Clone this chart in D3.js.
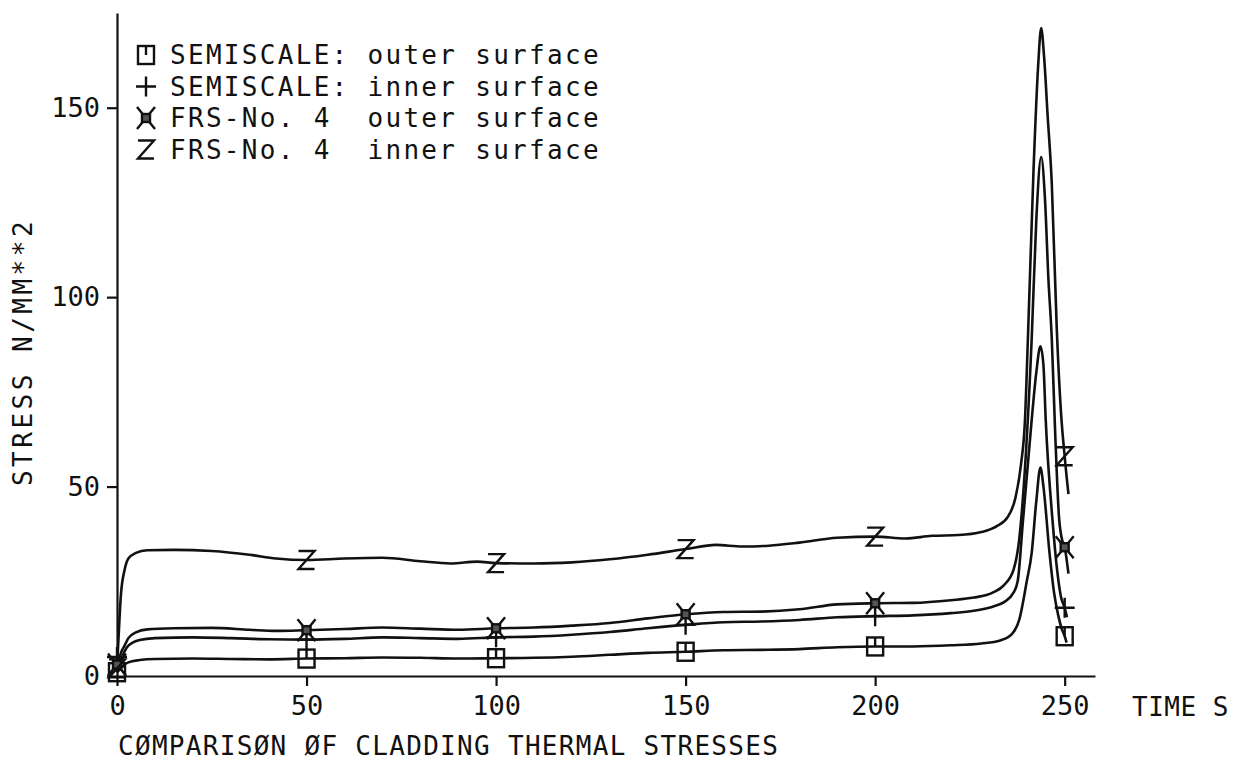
<!DOCTYPE html>
<html>
<head>
<meta charset="utf-8">
<script src="https://cdn.jsdelivr.net/npm/d3@7"></script>
<style>
  body { margin: 0; background: #fff; }
  svg text { font-family: "DejaVu Sans Mono", monospace; fill: #111; }
</style>
</head>
<body>
<svg id="chart"></svg>
<script>
// time (s), stress (N/mm^2)
const semiOuter = [[0,1],[0.5,1.5],[1,2],[2,3],[3,3.6],[6,4.2],[10,4.5],[20,4.6],[30,4.5],[40,4.4],[50,4.6],[60,4.7],[70,4.9],[80,4.8],[90,4.6],[100,4.7],[110,4.8],[120,5.1],[130,5.6],[140,6.1],[150,6.4],[160,6.8],[170,6.9],[180,7.1],[190,7.6],[200,7.8],[210,7.8],[220,8.1],[228,8.6],[233,9.4],[236,11],[238,14.8],[240,25],[241.3,32.5],[242.5,46],[243.6,55],[244.4,50],[246,32.5],[247.2,22],[248.3,16],[249.2,12.5],[250,10.5],[250.5,8.8]];
const semiInner = [[0,5],[0.5,3],[1,4],[2,6.5],[3,8],[6,9.5],[10,10],[20,10.2],[30,10],[40,9.7],[50,9.6],[60,9.8],[70,10.2],[80,10],[90,9.8],[100,10.2],[110,10.4],[120,10.9],[130,11.6],[140,12.6],[150,13.5],[160,14.2],[170,14.4],[180,14.8],[190,15.5],[200,15.8],[210,16],[220,16.6],[226,17.2],[231,18.3],[234,19.5],[236.5,22],[237.6,25],[239,41],[240.3,56],[241.3,67.6],[242.5,80],[243.6,87],[244.4,82],[245,67.6],[246.8,41],[248,28],[249,21],[250,18],[250.6,15.5]];
const frsOuter = [[0,3],[0.5,4],[1,6],[2,8],[3,10],[5,11.5],[8,12.3],[15,12.6],[25,12.7],[35,12.2],[42,11.9],[50,12.1],[60,12.4],[70,12.8],[80,12.5],[90,12.2],[100,12.6],[110,12.8],[120,13.3],[130,14],[140,15.2],[150,16.3],[160,16.9],[170,17],[180,17.6],[190,18.9],[200,19.2],[210,19.3],[220,20],[226,20.7],[231,22],[234,24],[236.5,28],[238,36],[239.2,50],[241.3,89],[242.5,120],[243.8,137],[244.8,126],[245.7,105],[246.6,89],[247.5,64],[248.5,42],[249.3,36],[250,34],[251,27]];
const frsInner = [[0,2],[0.5,12],[1,21],[2,28],[3,31],[5,32.5],[8,33.2],[15,33.3],[25,33],[35,32],[42,31],[50,30.6],[60,31],[70,31.2],[80,30.3],[88,29.7],[95,30.2],[100,29.8],[110,29.7],[120,30],[130,30.8],[140,32],[150,33.5],[158,34.6],[165,34.2],[172,34.4],[180,35.2],[190,36.5],[200,36.8],[208,36.3],[215,37],[222,37.2],[228,38],[232,39.5],[235,42],[237,47],[238.5,56],[239.5,67],[240.3,89],[241.8,134],[243,161],[243.8,171],[244.6,163],[245.5,148],[246.6,130],[247.9,92],[249,70],[250,58],[251,48]];

const markerTimes = [0, 50, 100, 150, 200, 250];
const xTicks = [0, 50, 100, 150, 200, 250];
const yTicks = [0, 50, 100, 150];
const legendLabels = ['SEMISCALE: outer surface', 'SEMISCALE: inner surface', 'FRS-No. 4  outer surface', 'FRS-No. 4  inner surface'];

const series = [
  { data: semiOuter, symbol: 'square' },
  { data: semiInner, symbol: 'plus' },
  { data: frsOuter, symbol: 'star' },
  { data: frsInner, symbol: 'zed' }
];

const width = 1242, height = 764;
const svg = d3.select('#chart').attr('width', width).attr('height', height);
svg.append('rect').attr('width', width).attr('height', height).attr('fill', '#fff');

const x = d3.scaleLinear().domain([0, 258]).range([117, 1095]);
const y = d3.scaleLinear().domain([0, 175]).range([676, 13]);
const ink = '#111';

// axes
const xAxis = svg.append('g')
  .attr('transform', 'translate(0,' + y(0) + ')')
  .call(d3.axisBottom(x).tickValues(xTicks).tickSize(10).tickSizeOuter(0).tickPadding(10).tickFormat(d3.format('d')));
const yAxis = svg.append('g')
  .attr('transform', 'translate(' + x(0) + ',0)')
  .call(d3.axisLeft(y).tickValues(yTicks).tickSize(10).tickSizeOuter(0).tickPadding(7).tickFormat(d3.format('d')));

[xAxis, yAxis].forEach(a => {
  a.selectAll('path, line').attr('stroke', ink).attr('stroke-width', 2.2);
  a.selectAll('text').attr('font-size', 27).attr('fill', ink)
    .attr('font-family', '"DejaVu Sans Mono", monospace');
});

svg.append('text').attr('x', 1132).attr('y', 716).attr('font-size', 26).attr('letter-spacing', 0.5).text('TIME S');
svg.append('text').attr('x', 118).attr('y', 755).attr('font-size', 26).attr('letter-spacing', 1.3)
  .text('CØMPARISØN ØF CLADDING THERMAL STRESSES');
svg.append('text')
  .attr('transform', 'translate(32,352) rotate(-90)')
  .attr('text-anchor', 'middle').attr('font-size', 26).attr('letter-spacing', 3.5)
  .text('STRESS N/MM**2');

// curves
const line = d3.line().x(d => x(d[0])).y(d => y(d[1])).curve(d3.curveMonotoneX);
series.forEach(s => {
  svg.append('path').datum(s.data)
    .attr('d', line)
    .attr('fill', 'none').attr('stroke', ink).attr('stroke-width', 2.6)
    .attr('stroke-linejoin', 'round');
});

function drawSymbol(g, type, cx, cy) {
  const m = g.append('g').attr('transform', 'translate(' + cx + ',' + cy + ')')
    .attr('fill', 'none').attr('stroke', ink).attr('stroke-width', 2.4);
  if (type === 'square') {
    m.append('rect').attr('x', -8).attr('y', -9).attr('width', 16).attr('height', 18);
    m.append('path').attr('d', 'M0,-9V0');
  } else if (type === 'plus') {
    m.append('path').attr('d', 'M-10,0H10M0,-10V10');
  } else if (type === 'star') {
    m.append('path').attr('d', 'M-9,-11L9,11M9,-11L-9,11');
    m.append('rect').attr('x', -4).attr('y', -4).attr('width', 8).attr('height', 8).attr('fill', '#555');
  } else {
    m.append('path').attr('d', 'M-8,-9H8L-8,9H8');
  }
}

// markers on curves
series.forEach(s => {
  markerTimes.forEach(t => {
    const p = s.data.find(d => d[0] === t);
    if (p) drawSymbol(svg, s.symbol, x(p[0]), y(p[1]));
  });
});

// legend
const legend = svg.append('g');
legendLabels.forEach((lab, i) => {
  const by = 64 + i * 31.5;
  drawSymbol(legend, series[i].symbol, 146, by - 9);
  legend.append('text').attr('x', 170).attr('y', by)
    .attr('font-size', 26).attr('letter-spacing', 2.3)
    .style('white-space', 'pre').text(lab);
});
</script>
</body>
</html>
